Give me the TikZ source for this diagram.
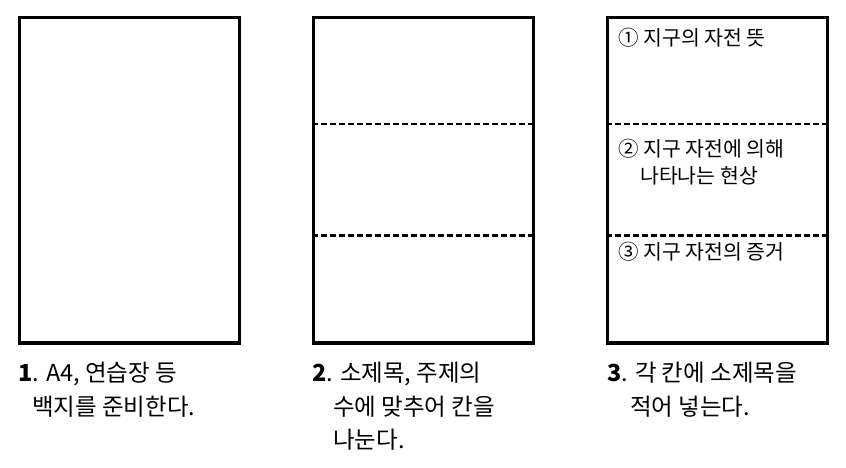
\documentclass[tikz,border=0pt]{standalone}
\usepackage{fontspec}
\setmainfont{Noto Sans CJK KR}
\usetikzlibrary{calc}
\tikzset{
  page/.style={draw=black, line width=3.4pt, minimum width=220pt, minimum height=325.5pt, inner sep=0pt},
  divider/.style={draw=black, line width=2.8pt, dash pattern=on 6pt off 3pt},
  caption/.style={anchor=base west, inner sep=0pt, font=\fontsize{23.5pt}{28pt}\selectfont},
  entry/.style={anchor=base west, inner sep=0pt, font=\fontsize{20.5pt}{25pt}\selectfont},
}
\begin{document}
\begin{tikzpicture}[x=1pt,y=-1pt]
\useasboundingbox (0,0) rectangle (846,467);
% pages
\node[page] (p1) at (129.5,180.25) {};
\node[page] (p2) at (423.5,180.25) {};
\node[page] (p3) at (717.5,180.25) {};
% dividers
\foreach \p in {p2,p3}{
  \coordinate (\p a1) at ($(\p.north west)!0.329!(\p.south west)$);
  \coordinate (\p a2) at ($(\p.north east)!0.329!(\p.south east)$);
  \coordinate (\p b1) at ($(\p.north west)!0.667!(\p.south west)$);
  \coordinate (\p b2) at ($(\p.north east)!0.667!(\p.south east)$);
  \draw[divider] (\p a1) -- (\p a2);
  \draw[divider] (\p b1) -- (\p b2);
}
% entries in page 3
\node[entry] (e1) at (618,45) {① 지구의 자전 뜻};
\node[entry] (e2) at (618,156.5) {② 지구 자전에 의해};
\node[entry] (e2b) at (640,183) {나타나는 현상};
\node[entry] (e3) at (618,259.5) {③ 지구 자전의 증거};
% captions
\node[caption] (c1a) at (18,381) {\textbf{1}. A4, 연습장 등};
\node[caption] (c1b) at (32,415) {백지를 준비한다.};
\node[caption] (c2a) at (312,381) {\textbf{2}. 소제목, 주제의};
\node[caption] (c2b) at (333,415) {수에 맞추어 칸을};
\node[caption] (c2c) at (333,448) {나눈다.};
\node[caption] (c3a) at (607,381) {\textbf{3}. 각 칸에 소제목을};
\node[caption] (c3b) at (630,415) {적어 넣는다.};
\end{tikzpicture}
\end{document}
